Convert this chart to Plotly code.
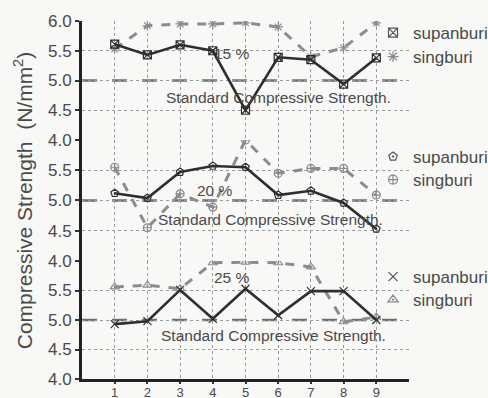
import plotly.graph_objects as go

# ---------------- data ----------------
batches = [1, 2, 3, 4, 5, 6, 7, 8, 9]
x_tick_labels = ["1", "2", "3", "4", "5", "6", "7", "8", "9"]

# 15 % panel (top)
sup_15 = [5.61, 5.43, 5.60, 5.50, 4.50, 5.39, 5.35, 4.94, 5.38]
sing_15 = [5.53, 5.92, 5.95, 5.95, 5.97, 5.90, 5.40, 5.55, 5.97]
# 20 % panel (middle)
sup_20 = [5.12, 5.04, 5.47, 5.57, 5.55, 5.09, 5.16, 4.96, 4.53]
sing_20 = [5.55, 4.55, 5.11, 4.89, 6.00, 5.45, 5.53, 5.53, 5.09]
# 25 % panel (bottom)
sup_25 = [4.93, 4.98, 5.51, 5.02, 5.53, 5.08, 5.49, 5.49, 5.00]
sing_25 = [5.56, 5.59, 5.53, 5.97, 5.98, 5.97, 5.90, 4.97, 5.05]

standard_strength = 5.0
top_ticks = [4.0, 4.5, 5.0, 5.5, 6.0]
top_tick_labels = ["4.0", "4.5", "5.0", "5.5", "6.0"]
panel_ticks = [4.0, 4.5, 5.0, 5.5]
panel_tick_labels = ["4.0", "4.5", "5.0", "5.5"]

series_names = ["supanburi", "singburi"]
panel_labels = ["15 %", "20 %", "25 %"]
standard_label = "Standard Compressive Strength."
y_title = "Compressive Strength  (N/mm<sup>2</sup>)"

# ---------------- styling ----------------
FONT = "Liberation Sans, Arial, sans-serif"
TXT = "#4a4a4a"
BG = "#f8f8f6"
SOLID = "#2e2e2e"
DASHED = "#8c8c8c"
STD = "#6e6e6e"
GRID = "#9a9a9a"

PLOT_TOP, PLOT_BOTTOM = 21, 379  # pixel rows of the plotting area


def paper_y(py):
    return (PLOT_BOTTOM - py) / (PLOT_BOTTOM - PLOT_TOP)


fig = go.Figure()

panels = [
    # (yaxis ref, supanburi, singburi, sup symbol, sing symbol, legends, legend rows)
    ("y3", sup_15, sing_15, "square-x-open", "asterisk-open", ("legend", "legend2"), (33, 57)),
    ("y2", sup_20, sing_20, "pentagon-open-dot", "circle-cross-open", ("legend3", "legend4"), (157, 180)),
    ("y", sup_25, sing_25, "x-thin-open", "triangle-up-open-dot", ("legend5", "legend6"), (277, 300)),
]

leg_layout = {}
for yref, sup, sing, sym_sup, sym_sing, legs, rows in panels:
    fig.add_trace(go.Scatter(
        x=batches, y=sing, xaxis="x", yaxis=yref, mode="lines+markers",
        line=dict(color=DASHED, width=3, dash="dash"),
        marker=dict(symbol=sym_sing, size=8, color=DASHED, line=dict(width=1.2)),
        showlegend=False, hoverinfo="skip"))
    fig.add_trace(go.Scatter(
        x=batches, y=sup, xaxis="x", yaxis=yref, mode="lines+markers",
        line=dict(color=SOLID, width=2.6),
        marker=dict(symbol=sym_sup, size=8, color=SOLID, line=dict(width=1.2)),
        showlegend=False, hoverinfo="skip"))
    # legend entries (marker only)
    fig.add_trace(go.Scatter(
        x=[None], y=[None], xaxis="x", yaxis=yref, mode="markers",
        name=series_names[0], legend=legs[0],
        marker=dict(symbol=sym_sup, size=9, color="#555", line=dict(width=1.2))))
    fig.add_trace(go.Scatter(
        x=[None], y=[None], xaxis="x", yaxis=yref, mode="markers",
        name=series_names[1], legend=legs[1],
        marker=dict(symbol=sym_sing, size=9, color="#888", line=dict(width=1.2))))
    for lg, row in zip(legs, rows):
        leg_layout[lg] = dict(
            x=0.89, y=paper_y(row), xanchor="left", yanchor="middle",
            bgcolor="rgba(0,0,0,0)", borderwidth=0,
            font=dict(family=FONT, size=17, color=TXT), itemwidth=30)
    # standard strength line
    fig.add_shape(type="line", xref="x domain", x0=0, x1=0.985,
                  yref=yref, y0=standard_strength, y1=standard_strength,
                  line=dict(color=STD, width=2.6, dash="longdash"), layer="below")

# annotations
ann_font = dict(family=FONT, size=15.5, color=TXT)
fig.add_annotation(x=4.6, y=5.45, xref="x", yref="y3", text=panel_labels[0],
                   showarrow=False, font=ann_font)
fig.add_annotation(x=4.07, y=5.17, xref="x", yref="y2", text=panel_labels[1],
                   showarrow=False, font=ann_font)
fig.add_annotation(x=4.6, y=5.72, xref="x", yref="y", text=panel_labels[2],
                   showarrow=False, font=ann_font)
fig.add_annotation(x=6.0, y=4.72, xref="x", yref="y3", text=standard_label,
                   showarrow=False, font=ann_font)
fig.add_annotation(x=5.75, y=4.68, xref="x", yref="y2", text=standard_label,
                   showarrow=False, font=ann_font)
fig.add_annotation(x=5.87, y=4.73, xref="x", yref="y", text=standard_label,
                   showarrow=False, font=ann_font)

yax_common = dict(
    range=[4.0, 6.0], showline=True, linecolor="#222", linewidth=3,
    ticks="outside", ticklen=4, tickwidth=2, tickcolor="#333",
    showgrid=True, gridcolor=GRID, gridwidth=1, griddash="dot",
    zeroline=False, anchor="x", automargin=False,
    tickfont=dict(family=FONT, size=17, color=TXT))

fig.update_layout(
    width=488, height=398,
    margin=dict(l=82, r=79, t=PLOT_TOP, b=398 - PLOT_BOTTOM, autoexpand=False),
    paper_bgcolor=BG, plot_bgcolor=BG,
    font=dict(family=FONT, color=TXT),
    xaxis=dict(range=[0, 10], tickvals=batches, ticktext=x_tick_labels,
               showline=True, linecolor="#222", linewidth=3,
               ticks="outside", ticklen=2, tickwidth=2, tickcolor="#333",
               showgrid=True, gridcolor=GRID, gridwidth=1, griddash="dot",
               zeroline=False, anchor="y", automargin=False,
               ticklabelstandoff=-3,
               tickfont=dict(family=FONT, size=13, color=TXT)),
    yaxis=dict(domain=[0, 0.3296], tickvals=panel_ticks,
               ticktext=panel_tick_labels, **yax_common),
    yaxis2=dict(domain=[0.3296, 0.6676], tickvals=panel_ticks,
                ticktext=panel_tick_labels,
                title=dict(text=y_title, standoff=10,
                           font=dict(family=FONT, size=21, color=TXT)),
                **yax_common),
    yaxis3=dict(domain=[0.6676, 1], tickvals=top_ticks,
                ticktext=top_tick_labels, **yax_common),
    **leg_layout,
)

fig.write_html(
    "out.html",
    config={"displayModeBar": False},
    post_script="document.body.style.margin='0px';"
                "document.body.style.background='%s';" % BG,
)
